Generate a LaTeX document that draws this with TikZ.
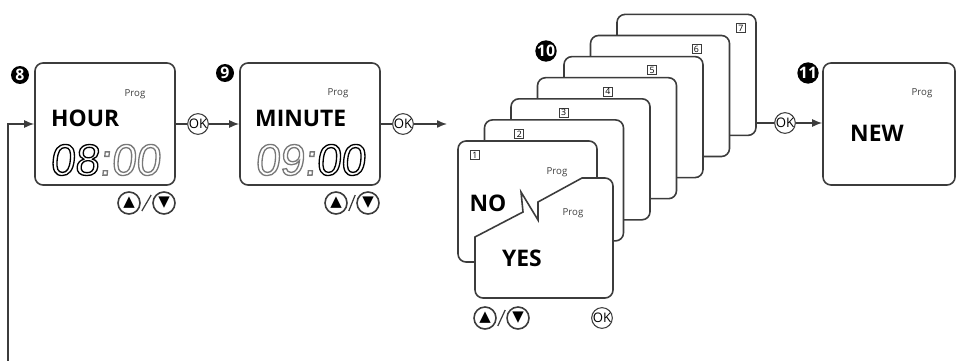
\documentclass[tikz,border=0pt]{standalone}
\usepackage{fontspec}
\setmainfont{Open Sans}
\newfontfamily\segfont[FakeSlant=0.1]{Liberation Sans}
\newfontfamily\symfont{DejaVu Sans}
\usetikzlibrary{arrows.meta, positioning, calc}
\definecolor{lcdline}{RGB}{60,60,60}
\definecolor{lcdgrey}{RGB}{120,120,120}
\newcommand{\hollow}[1]{\special{pdf:literal direct 1 Tr 0.75 w}#1\special{pdf:literal direct 0 Tr 0.4 w}}

\tikzset{
  screen/.style={draw=lcdline, line width=0.9pt, rounded corners=0.16cm, fill=white, minimum width=2.8cm, minimum height=2.44cm},
  badge/.style={circle, fill=black, text=white, inner sep=0pt, minimum size=0.36cm, font=\bfseries\fontsize{9}{9}\selectfont},
  okbtn/.style={circle, draw=lcdline, fill=white, line width=0.6pt, inner sep=0pt, minimum size=0.40cm, font=\fontsize{7.5}{7.5}\selectfont},
  keybtn/.style={circle, draw=lcdline, line width=0.9pt, inner sep=0pt, minimum size=0.44cm, font=\symfont\fontsize{8.5}{8.5}\selectfont},
  prog/.style={font=\fontsize{5.5}{6}\selectfont, text=black!75},
  word/.style={font=\bfseries\fontsize{13}{14}\selectfont},
  digits/.style={font=\segfont\fontsize{25}{25}\selectfont},
  numbox/.style={draw=lcdline, line width=0.5pt, inner sep=0pt, minimum size=0.18cm, font=\fontsize{5}{5}\selectfont},
  flow/.style={draw=lcdline, line width=0.8pt},
  slash/.style={lcdline, line width=0.7pt},
  >={Latex[length=2mm, width=1.6mm]}
}

\begin{document}
\begin{tikzpicture}
    \useasboundingbox (0,0) rectangle (19.14,-7.22);

    % --- Step 8: hour ---
    \node[screen] (hour) at (2.10,-2.48) {};
    \node[badge] (b8) at (0.40,-1.50) {8};
    \node[prog] (p8) at (2.70,-1.88) {Prog};
    \node[word, anchor=west] (w8) at (0.90,-2.36) {HOUR};
    \node[digits] (d8) at (2.10,-3.20) {\hollow{08\textcolor{lcdgrey}{:00}}};
    \node[keybtn] (up8) at (2.58,-4.06) {▲};
    \node[keybtn] (dn8) at (3.28,-4.06) {▼};
    \draw[slash] ($(up8.east)+(0.02,-0.16)$) -- ($(dn8.west)+(-0.02,0.16)$);

    % --- Step 9: minute ---
    \node[screen] (minute) at (6.20,-2.48) {};
    \node[badge] (b9) at (4.50,-1.46) {9};
    \node[prog] (p9) at (6.76,-1.86) {Prog};
    \node[word, anchor=west] (w9) at (4.98,-2.36) {MINUTE};
    \node[digits] (d9) at (6.20,-3.20) {\hollow{\textcolor{lcdgrey}{09:}00}};
    \node[keybtn] (up9) at (6.72,-4.06) {▲};
    \node[keybtn] (dn9) at (7.36,-4.06) {▼};
    \draw[slash] ($(up9.east)+(0.02,-0.16)$) -- ($(dn9.west)+(-0.02,0.16)$);

    % --- Step 10: stack of seven screens ---
    \foreach \k in {7,...,1} {
        \node[screen, minimum width=2.78cm, minimum height=2.42cm] (c\k) at ({10.55+0.53*(\k-1)},{-4.03+0.422*(\k-1)}) {};
        \node[numbox] (n\k) at ({9.50+0.886*(\k-1)},{-3.10+0.423*(\k-1)}) {\k};
    }
    \node[badge, minimum size=0.38cm] (b10) at (10.92,-1.02) {10};
    \node[prog] (p1) at (11.14,-3.44) {Prog};
    \node[word] (w1) at (9.76,-4.06) {NO};
    % front screen with the torn edge
    \draw[lcdline, line width=0.9pt, fill=white] (9.50,-4.74) -- (10.46,-4.24) -- (10.42,-3.84) -- (10.76,-4.40) -- (10.76,-4.04) -- (11.64,-3.56)
        [rounded corners=0.16cm] -- (12.26,-3.56) -- (12.26,-5.96) -- (9.50,-5.96) [sharp corners] -- cycle;
    \node[prog] (p1b) at (11.46,-4.26) {Prog};
    \node[word] (w1b) at (10.44,-5.16) {YES};
    \node[keybtn] (up10) at (9.70,-6.36) {▲};
    \node[keybtn] (dn10) at (10.36,-6.36) {▼};
    \draw[slash] ($(up10.east)+(0.02,-0.16)$) -- ($(dn10.west)+(-0.02,0.16)$);
    \node[okbtn] (ok10b) at (12.04,-6.36) {OK};

    % --- Step 11: new ---
    \node[screen, minimum width=2.64cm] (new) at (17.78,-2.48) {};
    \node[badge, minimum size=0.38cm] (b11) at (16.16,-1.46) {11};
    \node[prog] (p11) at (18.44,-1.86) {Prog};
    \node[word, anchor=west] (w11) at (16.88,-2.66) {NEW};

    % --- OK steps ---
    \node[okbtn] (ok8) at (3.96,-2.48) {OK};
    \node[okbtn] (ok9) at (8.06,-2.48) {OK};
    \node[okbtn] (ok10) at (15.70,-2.46) {OK};
    \coordinate (stackin) at (8.94,-2.48);
    \coordinate (back) at (0.16,-7.22);

    \draw[flow] (hour.east) -- (ok8);
    \draw[flow, ->] (ok8) -- (minute.west);
    \draw[flow] (minute.east) -- (ok9);
    \draw[flow, ->] (ok9) -- (stackin);
    \draw[flow] (ok10 -| c7.east) -- (ok10);
    \draw[flow, ->] (ok10) -- (ok10 -| new.west);
    \draw[flow, ->] (back) |- (hour.west);
\end{tikzpicture}
\end{document}
